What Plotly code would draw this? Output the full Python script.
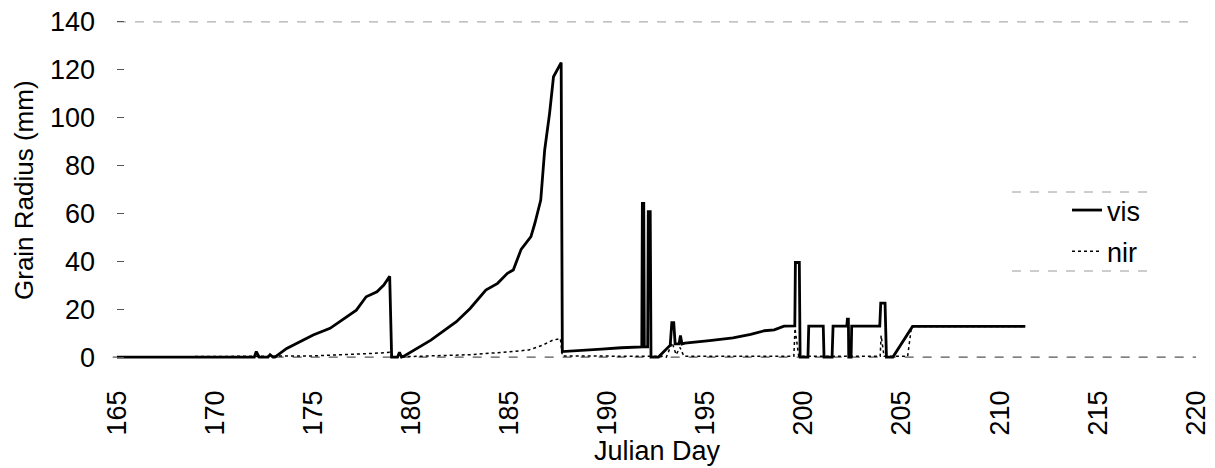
import plotly.graph_objects as go

# ---- data ----
vis_day = [165, 172.0, 172.1, 172.25, 172.7, 172.8, 172.95, 173.05, 173.65, 175.0, 175.86, 177.2,
           177.7, 178.25, 178.6, 178.9, 179.0, 179.3, 179.4, 179.5, 179.6, 181.0, 182.3, 183.0,
           183.8, 184.4, 184.9, 185.2, 185.6, 186.1, 186.3, 186.6, 186.8, 187.05, 187.25, 187.64,
           187.7, 188.5, 189.7, 190.7, 191.75, 191.78, 191.85, 191.88, 192.05, 192.08, 192.18, 192.22,
           192.6, 193.2, 193.28, 193.38, 193.45, 193.65, 193.72, 193.8, 193.95, 195.2, 196.4, 197.3,
           198.0, 198.5, 199.0, 199.55, 199.58, 199.78, 199.82, 200.22, 200.26, 201.0, 201.04, 201.45,
           201.5, 202.2, 202.23, 202.28, 202.3, 202.42, 202.45, 203.88, 203.93, 204.15, 204.22, 204.55,
           205.55, 211.3]
vis_val = [0, 0, 2.3, 0, 0, 1.0, 0, 0, 3.6, 9.2, 12.0, 19.6,
           25.2, 27.3, 30.1, 33.8, 0, 0, 2.0, 0, 0.3, 7.1, 14.8, 20.3,
           28.0, 30.8, 35.0, 36.4, 45.0, 50.3, 55.9, 65.6, 86.5, 101.8, 117.1, 123.0,
           2.3, 2.6, 3.3, 3.9, 4.3, 64.2, 64.2, 4.3, 4.3, 60.7, 60.7, 0,
           0, 5.0, 14.4, 14.4, 5.5, 5.5, 9.0, 5.5, 5.8, 6.9, 8.0, 9.5,
           11.0, 11.4, 12.9, 13.0, 39.5, 39.5, 0, 0, 12.9, 12.9, 0, 0,
           12.9, 12.9, 15.8, 15.8, 0, 0, 12.9, 12.9, 22.5, 22.5, 0, 0,
           12.8, 12.8]

nir_day = [165, 172.0, 175.0, 178.0, 178.9, 179.0, 180.0, 183.0, 185.0, 186.0, 186.7, 187.2,
           187.6, 187.7, 192.8, 193.0, 193.3, 193.5, 193.7, 193.9, 199.5, 199.56, 199.75, 203.9,
           203.95, 204.1, 205.3, 205.5, 211.3]
nir_val = [0, 0.2, 0.5, 1.5, 2.0, 0, 0.3, 1.0, 2.2, 3.0, 5.0, 7.0,
           7.8, 0.5, 0.3, 0, 6.0, 1.0, 4.0, 0.3, 0.3, 12.0, 0.3, 0.3,
           9.0, 0.3, 0.3, 12.8, 12.8]

x_ticks = [165, 170, 175, 180, 185, 190, 195, 200, 205, 210, 215, 220]
y_ticks = [0, 20, 40, 60, 80, 100, 120, 140]

FONT = "Liberation Sans, Arial, sans-serif"
FS = 27

# page body adds an 8px offset; figure is sized so that it fits the window
OFF = 8
W, H = 1215 - OFF, 468 - OFF
L, T = 117 - OFF, 20 - OFF
R = W - (1196 - OFF)
B = H - (359 - OFF)
PW, PH = W - L - R, H - T - B


def px_x(p):  # screen px -> paper x
    return (p - OFF - L) / PW


def px_y(p):  # screen px -> paper y
    return (H - B - (p - OFF)) / PH


fig = go.Figure()
fig.add_trace(go.Scatter(x=vis_day, y=vis_val, mode="lines", name="vis",
                         legendgroup="a",
                         line=dict(color="black", width=2.8)))
fig.add_trace(go.Scatter(x=nir_day, y=nir_val, mode="lines", name="nir",
                         legendgroup="b",
                         line=dict(color="black", width=1.5, dash="dot")))

# faint scanned-looking frame lines at 0 and 140
fig.add_shape(type="line", xref="paper", yref="y", x0=-0.004, x1=1.0, y0=0, y1=0,
              line=dict(color="#555555", width=1.2, dash="dash"), layer="below")
fig.add_shape(type="line", xref="paper", yref="y", x0=0, x1=1.0, y0=140, y1=140,
              line=dict(color="#9a9a9a", width=1, dash="dash"), layer="below")
# legend box top/bottom lines
fig.add_shape(type="line", xref="paper", yref="paper", x0=px_x(1012), x1=px_x(1149),
              y0=px_y(192), y1=px_y(192), line=dict(color="#9a9a9a", width=1, dash="dash"))
fig.add_shape(type="line", xref="paper", yref="paper", x0=px_x(1012), x1=px_x(1149),
              y0=px_y(271), y1=px_y(271), line=dict(color="#9a9a9a", width=1, dash="dash"))

# axis titles
fig.add_annotation(text="Julian Day", xref="paper", yref="paper",
                   x=px_x(657), y=px_y(451), xanchor="center", yanchor="middle",
                   showarrow=False, font=dict(size=FS))
fig.add_annotation(text="Grain Radius (mm)", xref="paper", yref="paper",
                   x=px_x(24), y=px_y(190), xanchor="center", yanchor="middle",
                   textangle=-90, showarrow=False, font=dict(size=26))

fig.update_layout(
    width=W, height=H,
    margin=dict(l=L, r=R, t=T, b=B),
    paper_bgcolor="white", plot_bgcolor="white",
    font=dict(family=FONT, size=FS, color="black"),
    showlegend=True,
    legend=dict(x=px_x(1067), y=px_y(186), xanchor="left", yanchor="top",
                bgcolor="rgba(0,0,0,0)", borderwidth=0,
                font=dict(size=FS), tracegroupgap=3),
    xaxis=dict(range=[165, 220], tickmode="array", tickvals=x_ticks,
               ticktext=[str(v) for v in x_ticks], tickangle=-90,
               showgrid=False, zeroline=False, showline=False, ticks="",
               ticklabelstandoff=25, automargin=False, ticklabeloverflow="allow"),
    yaxis=dict(range=[-0.8, 140.8], tickmode="array", tickvals=y_ticks,
               ticktext=[str(v) for v in y_ticks],
               showgrid=False, zeroline=False, showline=False,
               ticks="inside", ticklen=7, tickcolor="#555555", tickwidth=1,
               ticklabelstandoff=21, automargin=False, ticklabeloverflow="allow"),
)

fig.write_html("out.html")
